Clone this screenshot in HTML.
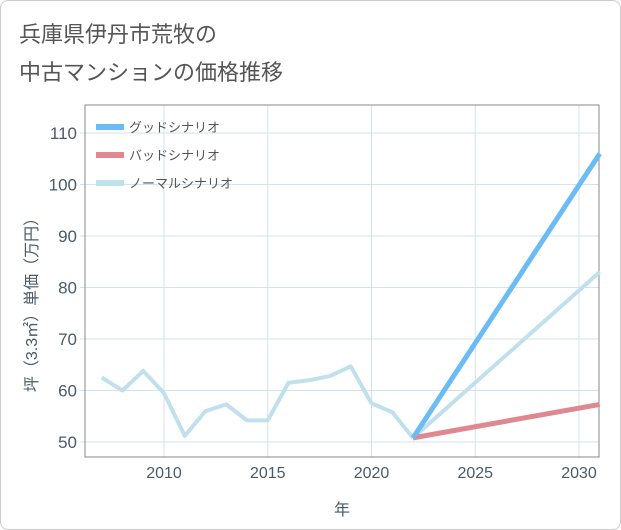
<!DOCTYPE html>
<html><head><meta charset="utf-8"><style>
body{margin:0;background:#fff;}
#wrap{position:relative;width:619px;height:528px;border:1px solid #ccc;border-radius:8px;background:#fff;overflow:hidden;}
.t{position:absolute;left:18px;font:22px "Liberation Sans","Noto Sans CJK JP",sans-serif;color:#555;}
svg{position:absolute;left:0;top:0}
text{font-family:"Liberation Sans","Noto Sans CJK JP",sans-serif;}
</style></head><body>
<div id="wrap">
<div class="t" style="top:16px">兵庫県伊丹市荒牧の</div>
<div class="t" style="top:54px">中古マンションの価格推移</div>
<svg id="c" width="621" height="530"></svg>
</div>
<script>
const histYears=[2007,2008,2009,2010,2011,2012,2013,2014,2015,2016,2017,2018,2019,2020,2021,2022];
const histValues=[62.5,60,63.8,59.5,51.2,56,57.3,54.2,54.2,61.5,62,62.8,64.7,57.5,55.8,50.8];
const fcYears=[2022,2031];
const goodValues=[50.8,106];
const badValues=[50.8,57.3];
const normalValues=[50.8,83];
const xTicks=[2010,2015,2020,2025,2030];
const yTicks=[50,60,70,80,90,100,110];
const legendLabels=["グッドシナリオ","バッドシナリオ","ノーマルシナリオ"];
const legendColors=["#6bbcf5","#e08890","#bfe0ec"];

const L=84,R=598,T=104,B=456;
const x=y=>163+(y-2010)*(578-163)/20;
const yv=v=>441-(v-50)*(441-132)/60;
const s=document.getElementById('c');
const NS='http://www.w3.org/2000/svg';
function el(t,a){const e=document.createElementNS(NS,t);for(const k in a)e.setAttribute(k,a[k]);s.appendChild(e);return e;}
xTicks.forEach(v=>{const e=el('line',{x1:x(v),x2:x(v),y1:T,y2:B,stroke:'#d3e2ee','stroke-width':1});


const t=el('text',{x:x(v),y:477,'text-anchor':'middle','font-size':16,fill:'#4a5a6a'});t.textContent=v;

});
yTicks.forEach(v=>{const e=el('line',{x1:L-5,x2:R,y1:yv(v),y2:yv(v),stroke:'#d3e2ee','stroke-width':1});


const t=el('text',{x:L-8,y:yv(v)+6,'text-anchor':'end','font-size':17,fill:'#4a5a6a'});t.textContent=v;

});
const fr=el('rect',{x:L,y:T,width:R-L,height:B-T,fill:'none',stroke:'#888','stroke-width':1});


function line(xs,vs,c,w,n){const p=el('polyline',{points:xs.map((a,i)=>x(a)+','+yv(vs[i])).join(' '),fill:'none',stroke:c,'stroke-width':w,'stroke-linejoin':'round'});

}
line(histYears,histValues,legendColors[2],4,'history-line');
line(fcYears,normalValues,legendColors[2],4,'normal-scenario-line');
line(fcYears,badValues,legendColors[1],5,'bad-scenario-line');
line(fcYears,goodValues,legendColors[0],5,'good-scenario-line');
legendLabels.forEach((l,i)=>{const yy=126+i*28;
const r=el('line',{x1:95,x2:123,y1:yy,y2:yy,stroke:legendColors[i],'stroke-width':6});


const t=el('text',{x:128,y:yy+5,'font-size':13,fill:'#555'});t.textContent=l;

});
const xt=el('text',{x:341,y:514,'text-anchor':'middle','font-size':16,fill:'#4a5a6a'});xt.textContent='年';


const yt=el('text',{x:0,y:0,'text-anchor':'middle','font-size':16,fill:'#4a5a6a',transform:'translate(36,300) rotate(-90)'});yt.textContent='坪（3.3㎡）単価（万円）';


</script>
</body></html>
